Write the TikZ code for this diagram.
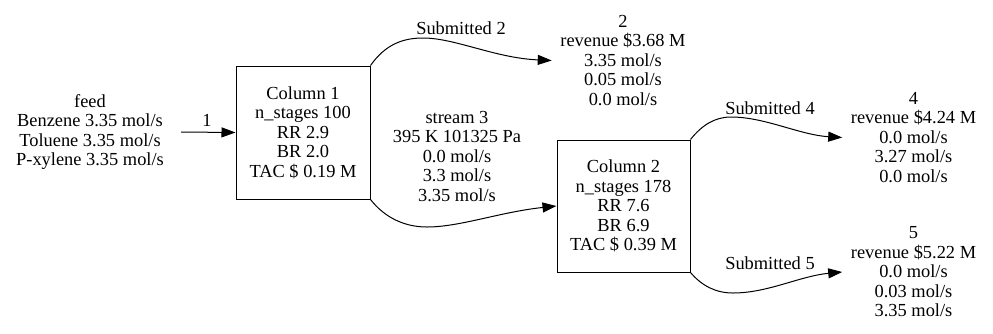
\documentclass[tikz,border=0pt]{standalone}
\usepackage{fontspec}
\setmainfont{Liberation Serif}
\usetikzlibrary{arrows.meta}
\begin{document}
\begin{tikzpicture}[x=1pt,y=-1pt,
  every node/.style={font=\fontsize{18.4}{19.5}\selectfont, align=center},
  column/.style={draw, line width=1pt, inner sep=0pt},
  product/.style={inner xsep=8.5pt, inner ysep=0pt},
  tag/.style={inner sep=0pt},
  flow/.style={line width=1pt, -{Triangle[length=14pt,width=10pt]}}]
\useasboundingbox (0,0) rectangle (993,333);

% feed and the two columns
\node[inner xsep=17pt, inner ysep=0pt] (feed) at (90,132)
  {feed\\Benzene 3.35 mol/s\\Toluene 3.35 mol/s\\P-xylene 3.35 mol/s};
\node[column, minimum width=134pt, minimum height=133pt] (col1) at (303,132.5)
  {Column 1\\n\_stages 100\\RR 2.9\\BR 2.0\\TAC \$ 0.19 M};
\node[column, minimum width=133pt, minimum height=132pt] (col2) at (623.5,206)
  {Column 2\\n\_stages 178\\RR 7.6\\BR 6.9\\TAC \$ 0.39 M};

% product streams
\node[product] (p2) at (623,60.5)
  {2\\revenue \$3.68 M\\3.35 mol/s\\0.05 mol/s\\0.0 mol/s};
\node[product] (p4) at (913.5,137.5)
  {4\\revenue \$4.24 M\\0.0 mol/s\\3.27 mol/s\\0.0 mol/s};
\node[product] (p5) at (913.5,272)
  {5\\revenue \$5.22 M\\0.0 mol/s\\0.03 mol/s\\3.35 mol/s};

% stream labels
\node[tag] (l1) at (207,120) {1};
\node[tag] (l2) at (461,28) {Submitted 2};
\node[tag] (l3) at (457,156.5) {stream 3\\395 K 101325 Pa\\0.0 mol/s\\3.3 mol/s\\3.35 mol/s};
\node[tag] (l4) at (770,108) {Submitted 4};
\node[tag] (l5) at (770,263) {Submitted 5};

% connectors
\draw[flow] (feed.east) -- (col1.west);
\draw[flow] (col1.north east) .. controls (385,45) and (402,38) .. (423,38)
  .. controls (455,38) and (495,58) .. (p2.west);
\draw[flow] (col1.south east) .. controls (385,218) and (405,227) .. (427,227)
  .. controls (460,227) and (500,212) .. (col2.west);
\draw[flow] (col2.north east) .. controls (702,125) and (715,117) .. (731,117)
  .. controls (765,117) and (800,135) .. (p4.west);
\draw[flow] (col2.south east) .. controls (702,286) and (716,293) .. (733,293)
  .. controls (768,293) and (800,276) .. (p5.west);
\end{tikzpicture}
\end{document}
